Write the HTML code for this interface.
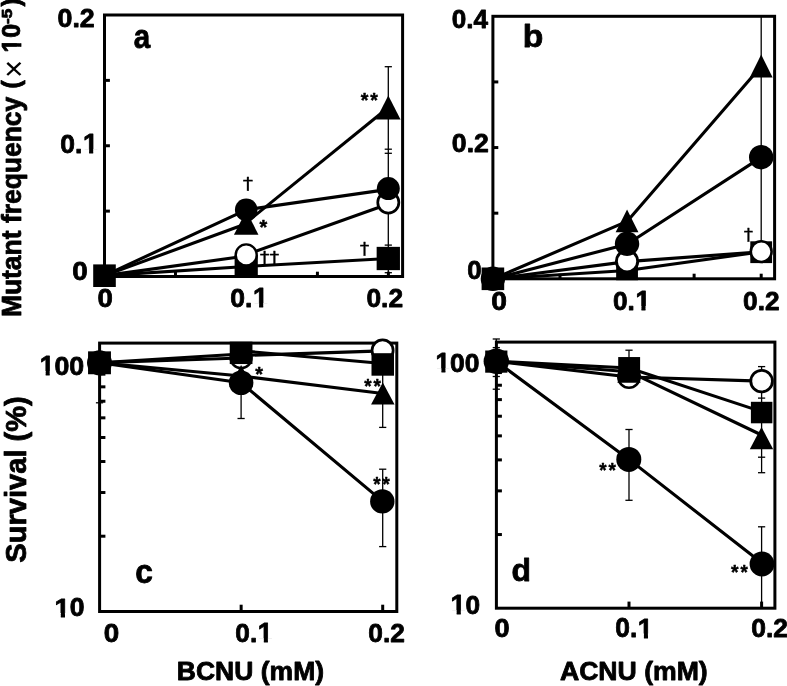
<!DOCTYPE html>
<html><head><meta charset="utf-8"><title>Figure</title>
<style>html,body{margin:0;padding:0;background:#fff;}svg{display:block;}</style>
</head><body>
<svg width="787" height="686" viewBox="0 0 787 686">
<rect width="787" height="686" fill="#fff"/>
<g stroke="#000" fill="none">
<rect x="104.5" y="15" width="298.1" height="261.5" fill="none" stroke-width="3.0"/>
<line x1="104.5" y1="211.12" x2="109.9" y2="211.12" stroke-width="3.0" stroke-linecap="butt"/>
<line x1="104.5" y1="145.75" x2="109.9" y2="145.75" stroke-width="3.0" stroke-linecap="butt"/>
<line x1="104.5" y1="80.38" x2="109.9" y2="80.38" stroke-width="3.0" stroke-linecap="butt"/>
<line x1="175.47" y1="276.5" x2="175.47" y2="271.7" stroke-width="3.0" stroke-linecap="butt"/>
<line x1="246.45" y1="276.5" x2="246.45" y2="271.7" stroke-width="3.0" stroke-linecap="butt"/>
<line x1="317.42" y1="276.5" x2="317.42" y2="271.7" stroke-width="3.0" stroke-linecap="butt"/>
<line x1="388.4" y1="276.5" x2="388.4" y2="271.7" stroke-width="3.0" stroke-linecap="butt"/>
<polyline fill="none" stroke-width="3.1" stroke-linejoin="round" points="104.5,275.6 246.2,266.5 388.3,258.5"/>
<polyline fill="none" stroke-width="3.1" stroke-linejoin="round" points="104.5,275.6 246.2,256"/>
<polyline fill="none" stroke-width="3.1" stroke-linejoin="round" points="246.2,254.6 388.3,204"/>
<polyline fill="none" stroke-width="3.1" stroke-linejoin="round" points="104.5,275.6 246.2,223.8"/>
<polyline fill="none" stroke-width="3.1" stroke-linejoin="round" points="246.2,222.7 388.3,107.55"/>
<polyline fill="none" stroke-width="3.1" stroke-linejoin="round" points="104.5,275.6 246.2,209.8 388.3,189.4"/>
<line x1="388.3" y1="66.7" x2="388.3" y2="272.7" stroke-width="1.3" stroke-linecap="butt"/>
<line x1="384.7" y1="66.7" x2="391.9" y2="66.7" stroke-width="1.3" stroke-linecap="butt"/>
<line x1="384.7" y1="149.2" x2="391.9" y2="149.2" stroke-width="1.3" stroke-linecap="butt"/>
<line x1="384.7" y1="153.3" x2="391.9" y2="153.3" stroke-width="1.3" stroke-linecap="butt"/>
<line x1="384.7" y1="245.1" x2="391.9" y2="245.1" stroke-width="1.3" stroke-linecap="butt"/>
<line x1="384.7" y1="272.7" x2="391.9" y2="272.7" stroke-width="1.3" stroke-linecap="butt"/>
<clipPath id="ca"><rect x="0" y="0" width="787" height="278.00"/></clipPath>
<rect x="234.6" y="254.9" width="23.2" height="23.2" fill="#000" stroke="none" clip-path="url(#ca)"/>
<circle cx="246.2" cy="254.9" r="10.5" fill="#fff" stroke-width="2.4"/>
<polygon fill="#000" stroke="none" points="246.2,210.75 258.45,234.65 233.95,234.65"/>
<circle cx="246.2" cy="209.8" r="11.3" fill="#000" stroke="none"/>
<rect x="376.65" y="246.85" width="23.3" height="23.3" fill="#000" stroke="none"/>
<circle cx="388.3" cy="202.5" r="10.55" fill="#fff" stroke-width="2.7"/>
<polygon fill="#000" stroke="none" points="388.3,95.6 400.55,119.5 376.05,119.5"/>
<circle cx="388.3" cy="188.6" r="11.5" fill="#000" stroke="none"/>
<rect x="93.2" y="264.4" width="22.6" height="22.6" fill="#000" stroke="none"/>
<rect x="492.9" y="16.3" width="281.7" height="262.5" fill="none" stroke-width="3.0"/>
<line x1="492.9" y1="213.18" x2="498.3" y2="213.18" stroke-width="3.0" stroke-linecap="butt"/>
<line x1="492.9" y1="147.55" x2="498.3" y2="147.55" stroke-width="3.0" stroke-linecap="butt"/>
<line x1="492.9" y1="81.93" x2="498.3" y2="81.93" stroke-width="3.0" stroke-linecap="butt"/>
<line x1="559.98" y1="278.8" x2="559.98" y2="273.7" stroke-width="3.0" stroke-linecap="butt"/>
<line x1="627.05" y1="278.8" x2="627.05" y2="273.7" stroke-width="3.0" stroke-linecap="butt"/>
<line x1="694.12" y1="278.8" x2="694.12" y2="273.7" stroke-width="3.0" stroke-linecap="butt"/>
<line x1="761.2" y1="278.8" x2="761.2" y2="273.7" stroke-width="3.0" stroke-linecap="butt"/>
<polyline fill="none" stroke-width="3.1" stroke-linejoin="round" points="492.9,279 627.05,270.5 761.2,251.8"/>
<polyline fill="none" stroke-width="3.1" stroke-linejoin="round" points="492.9,279 627.05,261.6 761.2,251.8"/>
<polyline fill="none" stroke-width="3.1" stroke-linejoin="round" points="492.9,279 627.05,221.4 761.2,66.3"/>
<polyline fill="none" stroke-width="3.1" stroke-linejoin="round" points="492.9,279 627.05,244.2 761.2,157.4"/>
<line x1="761.2" y1="16.3" x2="761.2" y2="245" stroke-width="1.3" stroke-linecap="butt"/>
<clipPath id="cb"><rect x="0" y="0" width="787" height="280.30"/></clipPath>
<rect x="616.15" y="259.2" width="21.8" height="21.8" fill="#000" stroke="none" clip-path="url(#cb)"/>
<circle cx="627.05" cy="261.2" r="10.65" fill="#fff" stroke-width="2.9"/>
<polygon fill="#000" stroke="none" points="627.05,209.4 638.45,232.2 615.65,232.2"/>
<circle cx="627.05" cy="243.8" r="12.2" fill="#000" stroke="none"/>
<rect x="750.3" y="241.3" width="21.8" height="21.8" fill="#000" stroke="none"/>
<circle cx="761.2" cy="251.6" r="10.4" fill="#fff" stroke-width="2.6"/>
<polygon fill="#000" stroke="none" points="761.2,54.6 772.6,77.4 749.8,77.4"/>
<circle cx="761.2" cy="157.2" r="12.2" fill="#000" stroke="none"/>
<circle cx="492.9" cy="278.8" r="12.2" fill="#000" stroke="none"/>
<rect x="481.6" y="267.5" width="22.6" height="22.6" fill="#000" stroke="none"/>
<rect x="99.6" y="343.1" width="297.2" height="268.4" fill="none" stroke-width="3.0"/>
<line x1="99.6" y1="536.21" x2="105.4" y2="536.21" stroke-width="3.0" stroke-linecap="butt"/>
<line x1="99.6" y1="492.53" x2="105.4" y2="492.53" stroke-width="3.0" stroke-linecap="butt"/>
<line x1="99.6" y1="461.53" x2="105.4" y2="461.53" stroke-width="3.0" stroke-linecap="butt"/>
<line x1="99.6" y1="437.49" x2="105.4" y2="437.49" stroke-width="3.0" stroke-linecap="butt"/>
<line x1="99.6" y1="417.84" x2="105.4" y2="417.84" stroke-width="3.0" stroke-linecap="butt"/>
<line x1="99.6" y1="401.23" x2="105.4" y2="401.23" stroke-width="3.0" stroke-linecap="butt"/>
<line x1="99.6" y1="386.84" x2="105.4" y2="386.84" stroke-width="3.0" stroke-linecap="butt"/>
<line x1="99.6" y1="374.15" x2="105.4" y2="374.15" stroke-width="3.0" stroke-linecap="butt"/>
<line x1="241.15" y1="611.5" x2="241.15" y2="604.7" stroke-width="3.0" stroke-linecap="butt"/>
<line x1="382.7" y1="611.5" x2="382.7" y2="604.7" stroke-width="3.0" stroke-linecap="butt"/>
<polyline fill="none" stroke-width="3.1" stroke-linejoin="round" points="99.5,362.8 241.1,354"/>
<polyline fill="none" stroke-width="3.1" stroke-linejoin="round" points="241.1,350.8 382.7,363.5"/>
<polyline fill="none" stroke-width="3.1" stroke-linejoin="round" points="99.5,362.8 241.1,358"/>
<polyline fill="none" stroke-width="3.1" stroke-linejoin="round" points="241.1,355.5 382.7,350.9"/>
<polyline fill="none" stroke-width="3.1" stroke-linejoin="round" points="99.5,362.8 241.1,376 382.7,393.45"/>
<polyline fill="none" stroke-width="3.1" stroke-linejoin="round" points="99.5,362.8 241.1,382.8 382.7,501.4"/>
<line x1="99.5" y1="362.8" x2="99.5" y2="402.8" stroke-width="1.3" stroke-linecap="butt"/>
<line x1="95.9" y1="402.8" x2="103.1" y2="402.8" stroke-width="1.3" stroke-linecap="butt"/>
<line x1="241.1" y1="382.8" x2="241.1" y2="418.5" stroke-width="1.3" stroke-linecap="butt"/>
<line x1="237.5" y1="418.5" x2="244.7" y2="418.5" stroke-width="1.3" stroke-linecap="butt"/>
<line x1="382.7" y1="364.45" x2="382.7" y2="427.4" stroke-width="1.3" stroke-linecap="butt"/>
<line x1="379.1" y1="427.4" x2="386.3" y2="427.4" stroke-width="1.3" stroke-linecap="butt"/>
<line x1="382.7" y1="469.2" x2="382.7" y2="546.6" stroke-width="1.3" stroke-linecap="butt"/>
<line x1="379.1" y1="469.2" x2="386.3" y2="469.2" stroke-width="1.3" stroke-linecap="butt"/>
<line x1="379.1" y1="546.6" x2="386.3" y2="546.6" stroke-width="1.3" stroke-linecap="butt"/>
<clipPath id="cc"><rect x="0" y="341.60" width="787" height="686"/></clipPath>
<circle cx="241.1" cy="357.8" r="10.45" fill="#fff" stroke-width="2.5"/>
<rect x="229.75" y="341.35" width="22.7" height="22.7" fill="#000" stroke="none" clip-path="url(#cc)"/>
<polygon fill="#000" stroke="none" points="241.1,365.05 252.85,386.95 229.35,386.95"/>
<circle cx="241.1" cy="382.8" r="12.3" fill="#000" stroke="none"/>
<circle cx="382.6" cy="350.4" r="10.55" fill="#fff" stroke-width="2.7"/>
<rect x="371.5" y="353.2" width="22.5" height="22.5" fill="#000" stroke="none"/>
<polygon fill="#000" stroke="none" points="382.8,382.5 394.55,404.4 371.05,404.4"/>
<circle cx="382.3" cy="501.4" r="12.2" fill="#000" stroke="none"/>
<circle cx="99.5" cy="362.8" r="12.5" fill="#000" stroke="none"/>
<rect x="88.05" y="351.35" width="22.9" height="22.9" fill="#000" stroke="none"/>
<rect x="496.4" y="342.1" width="278.5" height="266.1" fill="none" stroke-width="3.0"/>
<line x1="496.4" y1="534.54" x2="501.9" y2="534.54" stroke-width="3.0" stroke-linecap="butt"/>
<line x1="496.4" y1="490.87" x2="501.9" y2="490.87" stroke-width="3.0" stroke-linecap="butt"/>
<line x1="496.4" y1="459.89" x2="501.9" y2="459.89" stroke-width="3.0" stroke-linecap="butt"/>
<line x1="496.4" y1="435.86" x2="501.9" y2="435.86" stroke-width="3.0" stroke-linecap="butt"/>
<line x1="496.4" y1="416.22" x2="501.9" y2="416.22" stroke-width="3.0" stroke-linecap="butt"/>
<line x1="496.4" y1="399.62" x2="501.9" y2="399.62" stroke-width="3.0" stroke-linecap="butt"/>
<line x1="496.4" y1="385.23" x2="501.9" y2="385.23" stroke-width="3.0" stroke-linecap="butt"/>
<line x1="496.4" y1="372.55" x2="501.9" y2="372.55" stroke-width="3.0" stroke-linecap="butt"/>
<line x1="629" y1="608.2" x2="629" y2="601.6" stroke-width="3.0" stroke-linecap="butt"/>
<line x1="761.6" y1="608.2" x2="761.6" y2="601.6" stroke-width="3.0" stroke-linecap="butt"/>
<polyline fill="none" stroke-width="3.1" stroke-linejoin="round" points="496.3,361.3 629,368 761.6,411.6"/>
<polyline fill="none" stroke-width="3.1" stroke-linejoin="round" points="496.3,361.3 629,377 761.6,381.15"/>
<polyline fill="none" stroke-width="3.1" stroke-linejoin="round" points="496.3,361.3 629,371.7 761.6,435"/>
<polyline fill="none" stroke-width="3.1" stroke-linejoin="round" points="496.3,361.3 629,459.4 761.6,562.8"/>
<line x1="496.3" y1="339" x2="496.3" y2="389.2" stroke-width="1.3" stroke-linecap="butt"/>
<line x1="492.7" y1="339" x2="499.9" y2="339" stroke-width="1.3" stroke-linecap="butt"/>
<line x1="492.7" y1="347.6" x2="499.9" y2="347.6" stroke-width="1.3" stroke-linecap="butt"/>
<line x1="492.7" y1="376.5" x2="499.9" y2="376.5" stroke-width="1.3" stroke-linecap="butt"/>
<line x1="492.7" y1="389.2" x2="499.9" y2="389.2" stroke-width="1.3" stroke-linecap="butt"/>
<line x1="629" y1="350.2" x2="629" y2="368" stroke-width="1.3" stroke-linecap="butt"/>
<line x1="625.4" y1="350.2" x2="632.6" y2="350.2" stroke-width="1.3" stroke-linecap="butt"/>
<line x1="629" y1="429.5" x2="629" y2="500.3" stroke-width="1.3" stroke-linecap="butt"/>
<line x1="625.4" y1="429.5" x2="632.6" y2="429.5" stroke-width="1.3" stroke-linecap="butt"/>
<line x1="625.4" y1="500.3" x2="632.6" y2="500.3" stroke-width="1.3" stroke-linecap="butt"/>
<line x1="761.6" y1="366.6" x2="761.6" y2="472.7" stroke-width="1.3" stroke-linecap="butt"/>
<line x1="758" y1="366.6" x2="765.2" y2="366.6" stroke-width="1.3" stroke-linecap="butt"/>
<line x1="758" y1="398.1" x2="765.2" y2="398.1" stroke-width="1.3" stroke-linecap="butt"/>
<line x1="758" y1="457.2" x2="765.2" y2="457.2" stroke-width="1.3" stroke-linecap="butt"/>
<line x1="758" y1="472.7" x2="765.2" y2="472.7" stroke-width="1.3" stroke-linecap="butt"/>
<line x1="761.6" y1="526.8" x2="761.6" y2="606" stroke-width="1.3" stroke-linecap="butt"/>
<line x1="758" y1="526.8" x2="765.2" y2="526.8" stroke-width="1.3" stroke-linecap="butt"/>
<circle cx="629" cy="377" r="10.7" fill="#fff" stroke-width="2.6"/>
<polygon fill="#000" stroke="none" points="629,360.55 640.7,382.85 617.3,382.85"/>
<rect x="618.2" y="357.05" width="21.9" height="21.9" fill="#000" stroke="none"/>
<circle cx="628.8" cy="459.4" r="12.5" fill="#000" stroke="none"/>
<circle cx="761.6" cy="381.15" r="10.8" fill="#fff" stroke-width="2.8"/>
<rect x="750.9" y="401.8" width="21.5" height="21.5" fill="#000" stroke="none"/>
<polygon fill="#000" stroke="none" points="761.5,427 773.2,449.3 749.8,449.3"/>
<circle cx="762" cy="564" r="12.4" fill="#000" stroke="none"/>
<circle cx="496.3" cy="361.2" r="12.7" fill="#000" stroke="none"/>
<rect x="485.2" y="350.5" width="22.2" height="22.2" fill="#000" stroke="none"/>
</g>
<g fill="#000" font-family="'Liberation Sans', Arial, Helvetica, sans-serif">
<g stroke="#000" stroke-width="0.8" stroke-linejoin="round">
<text font-size="26.06" font-weight="bold" transform="translate(57.53,27.14) scale(1.0283,1)">0.2</text>
<text font-size="26.2" font-weight="bold" transform="translate(60.34,152.74) scale(1.0104,1)">0.</text>
<clipPath id="k1"><rect x="-27.03" y="-54.07" width="81.1" height="50.28"/><rect x="6.11" y="-8.11" width="4.08" height="10.81"/></clipPath>
<text font-size="27.03" font-weight="bold" clip-path="url(#k1)" transform="translate(83.01,153) scale(0.9986,1)">1</text>
<text font-size="25.92" font-weight="bold" transform="translate(72.19,279.64) scale(1.0723,1)">0</text>
<text font-size="26.34" font-weight="bold" transform="translate(97.6,306.64) scale(1.0471,1)">0</text>
<text font-size="26.48" font-weight="bold" transform="translate(230.34,306.74) scale(0.9997,1)">0.</text>
<clipPath id="k2"><rect x="-27.33" y="-54.65" width="81.98" height="50.83"/><rect x="6.18" y="-8.2" width="4.13" height="10.93"/></clipPath>
<text font-size="27.33" font-weight="bold" clip-path="url(#k2)" transform="translate(253.01,307) scale(0.9880,1)">1</text>
<text font-size="26.34" font-weight="bold" transform="translate(366.45,306.64) scale(0.9999,1)">0.2</text>
<text font-size="32.55" font-weight="bold" transform="translate(133.71,47.87) scale(0.9074,1)">a</text>
<text font-size="20" font-weight="bold" stroke-width="0.45" transform="translate(360.83,107.08) scale(0.9803,1)">*</text>
<text font-size="20" font-weight="bold" stroke-width="0.45" transform="translate(370.33,107.08) scale(0.9803,1)">*</text>
<text font-size="19.59" font-weight="bold" stroke-width="0.45" transform="translate(259.43,234.05) scale(1.0140,1)">*</text>
<text font-size="18.06" font-weight="normal" font-family="'DejaVu Sans', 'Liberation Sans', sans-serif" stroke-width="0.3" transform="translate(242.73,190.23) scale(1.1443,1)">†</text>
<text font-size="16.61" font-weight="normal" font-family="'DejaVu Sans', 'Liberation Sans', sans-serif" stroke-width="0.3" transform="translate(259.66,263.47) scale(1.1727,1)">††</text>
<text font-size="17.94" font-weight="normal" font-family="'DejaVu Sans', 'Liberation Sans', sans-serif" stroke-width="0.3" transform="translate(359.77,254.95) scale(1.0653,1)">†</text>
<text font-size="26.34" font-weight="bold" transform="translate(451.86,27.64) scale(0.9908,1)">0.4</text>
<text font-size="26.06" font-weight="bold" transform="translate(451.83,152.24) scale(1.0224,1)">0.2</text>
<text font-size="26.34" font-weight="bold" transform="translate(467.26,278.74) scale(0.9832,1)">0</text>
<text font-size="26.2" font-weight="bold" transform="translate(491.37,309.74) scale(1.0769,1)">0</text>
<text font-size="26.06" font-weight="bold" transform="translate(612.95,309.54) scale(1.0061,1)">0.</text>
<clipPath id="k3"><rect x="-26.89" y="-53.78" width="80.67" height="50.01"/><rect x="6.08" y="-8.07" width="4.06" height="10.76"/></clipPath>
<text font-size="26.89" font-weight="bold" clip-path="url(#k3)" transform="translate(635.41,309.8) scale(0.9938,1)">1</text>
<text font-size="26.06" font-weight="bold" transform="translate(743.05,309.54) scale(1.0078,1)">0.2</text>
<text font-size="31.84" font-weight="bold" transform="translate(522.81,46.68) scale(1.0574,1)">b</text>
<text font-size="17.33" font-weight="normal" font-family="'DejaVu Sans', 'Liberation Sans', sans-serif" stroke-width="0.3" transform="translate(743.78,240.7) scale(1.0769,1)">†</text>
<clipPath id="k4"><rect x="-27.18" y="-54.36" width="81.54" height="50.56"/><rect x="6.14" y="-8.15" width="4.1" height="10.87"/></clipPath>
<text font-size="27.18" font-weight="bold" clip-path="url(#k4)" transform="translate(39.76,374.8) scale(0.9680,1)">1</text>
<text font-size="26.34" font-weight="bold" transform="translate(54.39,374.54) scale(1.0152,1)">00</text>
<clipPath id="k5"><rect x="-26.6" y="-53.2" width="79.8" height="49.47"/><rect x="6.01" y="-7.98" width="4.02" height="10.64"/></clipPath>
<text font-size="26.6" font-weight="bold" clip-path="url(#k5)" transform="translate(54.58,616.7) scale(1.0384,1)">1</text>
<text font-size="25.77" font-weight="bold" transform="translate(69.63,616.44) scale(1.0297,1)">0</text>
<text font-size="26.48" font-weight="bold" transform="translate(103.69,642.04) scale(1.0495,1)">0</text>
<text font-size="26.62" font-weight="bold" transform="translate(235.35,641.83) scale(0.9848,1)">0.</text>
<clipPath id="k6"><rect x="-27.47" y="-54.94" width="82.41" height="51.1"/><rect x="6.21" y="-8.24" width="4.15" height="10.99"/></clipPath>
<text font-size="27.47" font-weight="bold" clip-path="url(#k6)" transform="translate(257.81,642.1) scale(0.9728,1)">1</text>
<text font-size="26.62" font-weight="bold" transform="translate(368.25,642.03) scale(0.9893,1)">0.2</text>
<text font-size="32.73" font-weight="bold" transform="translate(135.33,583.47) scale(0.9702,1)">c</text>
<text font-size="19.32" font-weight="bold" stroke-width="0.45" transform="translate(255.13,380.76) scale(1.0282,1)">*</text>
<text font-size="19.59" font-weight="bold" stroke-width="0.45" transform="translate(364.13,392.85) scale(0.9603,1)">*</text>
<text font-size="19.59" font-weight="bold" stroke-width="0.45" transform="translate(373.43,392.85) scale(0.9737,1)">*</text>
<text font-size="19.86" font-weight="bold" stroke-width="0.45" transform="translate(373.13,490.83) scale(0.9472,1)">*</text>
<text font-size="19.86" font-weight="bold" stroke-width="0.45" transform="translate(382.43,490.83) scale(0.9472,1)">*</text>
<text font-size="25.07" font-weight="bold" transform="translate(176.78,679.65) scale(1.0580,1)">BCNU (mM)</text>
<clipPath id="k7"><rect x="-26.89" y="-53.78" width="80.67" height="50.01"/><rect x="6.08" y="-8.07" width="4.06" height="10.76"/></clipPath>
<text font-size="26.89" font-weight="bold" clip-path="url(#k7)" transform="translate(435.58,371.9) scale(0.9683,1)">1</text>
<text font-size="26.06" font-weight="bold" transform="translate(450.07,371.64) scale(1.0162,1)">00</text>
<clipPath id="k8"><rect x="-27.03" y="-54.07" width="81.1" height="50.28"/><rect x="6.11" y="-8.11" width="4.08" height="10.81"/></clipPath>
<text font-size="27.03" font-weight="bold" clip-path="url(#k8)" transform="translate(450.5,614.1) scale(1.0095,1)">1</text>
<text font-size="26.2" font-weight="bold" transform="translate(465.39,613.84) scale(1.0014,1)">0</text>
<text font-size="25.77" font-weight="bold" transform="translate(494.41,637.24) scale(1.0537,1)">0</text>
<text font-size="26.9" font-weight="bold" transform="translate(615.24,637.23) scale(0.9808,1)">0.</text>
<clipPath id="k9"><rect x="-27.76" y="-55.52" width="83.28" height="51.64"/><rect x="6.27" y="-8.33" width="4.19" height="11.1"/></clipPath>
<text font-size="27.76" font-weight="bold" clip-path="url(#k9)" transform="translate(637.84,637.5) scale(0.9692,1)">1</text>
<text font-size="26.2" font-weight="bold" transform="translate(751.24,637.04) scale(1.0111,1)">0.2</text>
<text font-size="31.7" font-weight="bold" transform="translate(511.62,581.28) scale(1.0057,1)">d</text>
<text font-size="20.41" font-weight="bold" stroke-width="0.45" transform="translate(599.13,477) scale(0.9221,1)">*</text>
<text font-size="20.41" font-weight="bold" stroke-width="0.45" transform="translate(608.43,477) scale(0.9350,1)">*</text>
<text font-size="20.41" font-weight="bold" stroke-width="0.45" transform="translate(731.03,578.5) scale(0.9479,1)">*</text>
<text font-size="20.41" font-weight="bold" stroke-width="0.45" transform="translate(740.43,578.5) scale(0.9221,1)">*</text>
<text font-size="25.49" font-weight="bold" transform="translate(559.93,679.65) scale(1.0444,1)">ACNU (mM)</text>
<text font-size="27.68" font-weight="bold" transform="translate(21,317.12) rotate(-90) scale(0.9559,1)">Mutant frequency</text>
<text font-size="25.35" font-weight="bold" transform="translate(19.78,88.53) rotate(-90) scale(0.9722,1)">(</text>
<text font-size="33.26" font-weight="normal" stroke="none" transform="translate(24.56,78.07) rotate(-90) scale(0.9324,1)">×</text>
<text font-size="26.62" font-weight="bold" transform="translate(20.33,37.8) rotate(-90) scale(0.9411,1)">0</text>
<clipPath id="k10"><rect x="-27.47" y="-54.94" width="82.41" height="51.1"/><rect x="6.21" y="-8.24" width="4.15" height="10.99"/></clipPath>
<text font-size="27.47" font-weight="bold" clip-path="url(#k10)" transform="translate(20.6,52.43) rotate(-90) scale(0.8981,1)">1</text>
<text font-size="15.14" font-weight="bold" transform="translate(11.75,23.88) rotate(-90) scale(1.1206,1)">-5</text>
<text font-size="25.78" font-weight="bold" transform="translate(19.99,6.6) rotate(-90) scale(0.9665,1)">)</text>
<text font-size="29.72" font-weight="bold" transform="translate(26.3,562.67) rotate(-90) scale(0.9788,1)">Survival (%)</text>
</g>
</g>
</svg>
</body></html>
